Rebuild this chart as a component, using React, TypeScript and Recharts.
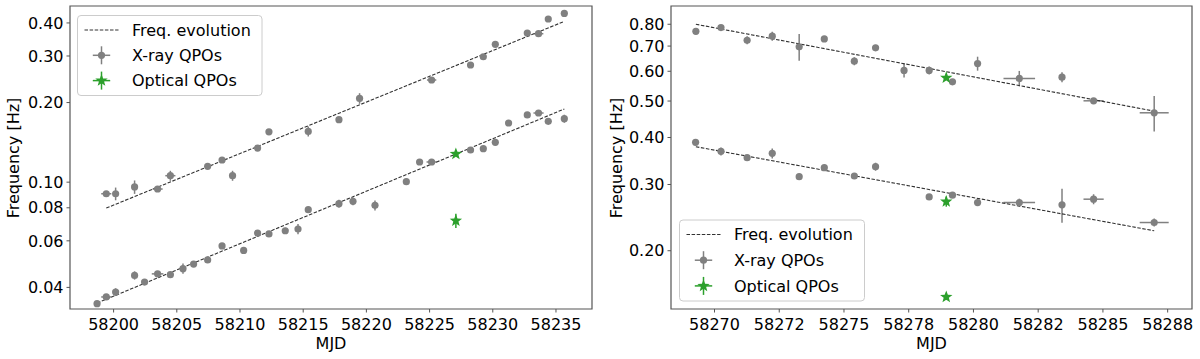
import React from 'react';
import { ScatterChart, Scatter, XAxis, YAxis, ErrorBar, ReferenceArea } from 'recharts';

const FONT = "'DejaVu Sans', Verdana, sans-serif";
const GREY = '#808080';
const GREEN = '#2ca02c';
const FIT = '#333333';
const SPINE = '#555555';

// ---------- Left panel data ----------
const leftXTicks = [58200, 58205, 58210, 58215, 58220, 58225, 58230, 58235];
const leftXTickLabels = ['58200', '58205', '58210', '58215', '58220', '58225', '58230', '58235'];
const leftYTicks = [0.04, 0.06, 0.08, 0.1, 0.2, 0.3, 0.4];
const leftYTickLabels = ['0.04', '0.06', '0.08', '0.10', '0.20', '0.30', '0.40'];

const leftUpperMjd = [58199.42, 58200.16, 58201.66, 58203.48, 58204.49, 58207.44, 58208.58, 58209.41, 58211.39, 58212.29, 58215.40, 58217.83, 58219.46, 58225.16, 58228.24, 58229.25, 58230.20, 58232.73, 58233.62, 58234.39, 58235.66];
const leftUpperFreq = [0.0904, 0.0904, 0.0959, 0.0942, 0.1058, 0.1148, 0.1213, 0.1058, 0.1346, 0.155, 0.1556, 0.1723, 0.2074, 0.2434, 0.2773, 0.298, 0.332, 0.3665, 0.3642, 0.414, 0.4347];
const leftUpperXErr = [0.4, 0, 0, 0.4, 0.4, 0, 0, 0, 0, 0, 0, 0, 0, 0.37, 0, 0, 0, 0, 0.38, 0, 0];
const leftUpperYErr = [0.0016, 0.005, 0.0056, 0.0008, 0.0046, 0.001, 0.001, 0.0046, 0.0012, 0.004, 0.0068, 0.0015, 0.0096, 0.002, 0.0024, 0.0026, 0.003, 0.003, 0.003, 0.0036, 0.0038];

const leftLowerMjd = [58198.69, 58199.42, 58200.16, 58201.66, 58202.45, 58203.48, 58204.49, 58205.49, 58206.33, 58207.44, 58208.58, 58210.29, 58211.39, 58212.29, 58213.58, 58214.59, 58215.40, 58217.83, 58218.94, 58220.68, 58223.16, 58224.21, 58225.16, 58228.24, 58229.25, 58230.20, 58231.25, 58232.73, 58233.62, 58234.39, 58235.66];
const leftLowerFreq = [0.0347, 0.0368, 0.0384, 0.0444, 0.0419, 0.045, 0.0447, 0.0471, 0.049, 0.0508, 0.0574, 0.0552, 0.0642, 0.0637, 0.0655, 0.0665, 0.0787, 0.0829, 0.0846, 0.0817, 0.1004, 0.1192, 0.1192, 0.1323, 0.1338, 0.1414, 0.1674, 0.1795, 0.1826, 0.1698, 0.1738];
const leftLowerXErr = [0, 0.4, 0, 0, 0, 0.46, 0.25, 0.2, 0, 0, 0, 0, 0, 0, 0, 0.2, 0, 0, 0, 0, 0, 0, 0.4, 0, 0, 0, 0, 0, 0.4, 0, 0];
const leftLowerYErr = [0, 0, 0.0013, 0.0016, 0, 0, 0, 0.0021, 0, 0, 0, 0, 0, 0, 0.0017, 0.0029, 0, 0.0029, 0.0029, 0.0036, 0, 0, 0, 0, 0, 0, 0, 0, 0, 0, 0.0061];

const leftOpticalMjd = [58227.08, 58227.08];
const leftOpticalFreq = [0.1278, 0.0715];
const leftOpticalXErr = [0, 0];
const leftOpticalYErr = [0.0005, 0.0044];

const leftFitUpperMjd = [58199.42, 58235.66];
const leftFitUpperFreq = [0.0798, 0.4055];
const leftFitLowerMjd = [58198.69, 58235.66];
const leftFitLowerFreq = [0.0349, 0.1891];

// ---------- Right panel data ----------
const rightXTicks = [58270, 58272.5, 58275, 58277.5, 58280, 58282.5, 58285, 58287.5];
const rightXTickLabels = ['58270', '58272', '58275', '58278', '58280', '58282', '58285', '58288'];
const rightYTicks = [0.2, 0.3, 0.4, 0.5, 0.6, 0.7, 0.8];
const rightYTickLabels = ['0.20', '0.30', '0.40', '0.50', '0.60', '0.70', '0.80'];

const rightUpperMjd = [58269.28, 58270.25, 58271.26, 58272.23, 58273.27, 58274.24, 58275.40, 58276.22, 58277.32, 58278.29, 58279.19, 58280.16, 58281.77, 58283.42, 58284.64, 58286.98];
const rightUpperFreq = [0.766, 0.784, 0.7255, 0.7435, 0.6966, 0.7312, 0.638, 0.6924, 0.603, 0.603, 0.5624, 0.629, 0.5742, 0.5787, 0.5007, 0.4653];
const rightUpperXErr = [0, 0, 0, 0, 0, 0, 0, 0, 0, 0, 0, 0, 0.61, 0, 0.39, 0.56];
const rightUpperYErr = [0.014, 0.005, 0.0177, 0.0204, 0.0566, 0.0045, 0.0156, 0.0127, 0.0258, 0.0147, 0.0034, 0.0269, 0.027, 0.0177, 0.003, 0.0503];

const rightLowerMjd = [58269.27, 58270.25, 58271.26, 58272.23, 58273.27, 58274.24, 58275.40, 58276.22, 58278.29, 58279.19, 58280.16, 58281.77, 58283.42, 58284.64, 58286.98];
const rightLowerFreq = [0.3884, 0.3675, 0.3535, 0.3631, 0.3148, 0.3325, 0.316, 0.3346, 0.278, 0.281, 0.2685, 0.2685, 0.2649, 0.2742, 0.2377];
const rightLowerXErr = [0, 0, 0, 0, 0, 0, 0, 0, 0, 0, 0, 0.61, 0, 0.39, 0.56];
const rightLowerYErr = [0.002, 0.009, 0.002, 0.0111, 0.0058, 0.002, 0.002, 0.0082, 0.002, 0.002, 0.002, 0.0066, 0.0275, 0.0084, 0.0058];

const rightOpticalMjd = [58278.95, 58278.95, 58278.95];
const rightOpticalFreq = [0.5763, 0.2702, 0.1507];
const rightOpticalXErr = [0, 0, 0];
const rightOpticalYErr = [0.004, 0.0083, 0.0028];

const rightFitUpperMjd = [58269.28, 58286.98];
const rightFitUpperFreq = [0.8, 0.47];
const rightFitLowerMjd = [58269.28, 58286.98];
const rightFitLowerFreq = [0.378, 0.226];

// ---------- helpers ----------
type Pt = { x: number; y: number; ex: number; ey: number };
const mk = (mjd: number[], f: number[], ex?: number[], ey?: number[]): Pt[] =>
  mjd.map((x, i) => ({ x, y: f[i], ex: ex ? ex[i] : 0, ey: ey ? ey[i] : 0 }));

const starPoints = (cx: number, cy: number, R: number) => {
  const r = R * 0.42;
  const pts: string[] = [];
  for (let i = 0; i < 10; i++) {
    const a = (-90 + i * 36) * Math.PI / 180;
    const rad = i % 2 === 0 ? R : r;
    pts.push(`${cx + rad * Math.cos(a)},${cy + rad * Math.sin(a)}`);
  }
  return pts.join(' ');
};

const CircleShape = (p: any) =>
  p.cx == null ? <g /> : <circle cx={p.cx} cy={p.cy} r={3.6} fill={GREY} />;
const StarShape = (p: any) =>
  p.cx == null ? <g /> : <polygon points={starPoints(p.cx, p.cy, 6.5)} fill={GREEN} />;
const NoShape = () => <g />;

type PanelProps = {
  left: number;
  yAxisWidth: number;
  xDomain: [number, number];
  yDomain: [number, number];
  xTicks: number[];
  xTickLabels: string[];
  yTicks: number[];
  yTickLabels: string[];
  upper: Pt[];
  lower: Pt[];
  optical: Pt[];
  fitUpper: Pt[];
  fitLower: Pt[];
};

const tickStyle = { fill: '#000', fontSize: 16, fontFamily: FONT };

function Panel(props: PanelProps) {
  const { left, yAxisWidth, xDomain, yDomain, xTicks, xTickLabels, yTicks, yTickLabels } = props;
  const fitLine = { stroke: FIT, strokeWidth: 1.1, strokeDasharray: '3.5 1.6' };
  return (
    <div style={{ position: 'absolute', left, top: 0, width: 600, height: 359 }}>
      <ScatterChart width={600} height={359} margin={{ top: 6, right: 8, bottom: 0, left: 0 }}>
        <XAxis
          type="number"
          dataKey="x"
          domain={xDomain}
          allowDataOverflow
          ticks={xTicks}
          tickFormatter={(v: number) => xTickLabels[xTicks.indexOf(v)] ?? String(v)}
          height={50}
          axisLine={false}
          tickLine={{ stroke: SPINE, strokeWidth: 1 }}
          tickSize={3.5}
          tickMargin={6}
          tick={tickStyle}
          interval={0}
        />
        <YAxis
          type="number"
          dataKey="y"
          scale="log"
          domain={yDomain}
          allowDataOverflow
          ticks={yTicks}
          tickFormatter={(v: number) => yTickLabels[yTicks.indexOf(v)] ?? String(v)}
          width={yAxisWidth}
          axisLine={false}
          tickLine={{ stroke: SPINE, strokeWidth: 1 }}
          tickSize={3.5}
          tickMargin={3}
          tick={tickStyle}
          interval={0}
        />
        <ReferenceArea
          x1={xDomain[0]}
          x2={xDomain[1]}
          y1={yDomain[0]}
          y2={yDomain[1]}
          fill="none"
          fillOpacity={0}
          stroke={SPINE}
          strokeWidth={1.2}
          ifOverflow="visible"
        />
        <Scatter data={props.fitUpper} line={fitLine} shape={NoShape} isAnimationActive={false} />
        <Scatter data={props.fitLower} line={fitLine} shape={NoShape} isAnimationActive={false} />
        <Scatter data={props.upper} shape={CircleShape} isAnimationActive={false}>
          <ErrorBar dataKey="ey" direction="y" width={0} stroke={GREY} strokeWidth={1.5} isAnimationActive={false} />
          <ErrorBar dataKey="ex" direction="x" width={0} stroke={GREY} strokeWidth={1.5} isAnimationActive={false} />
        </Scatter>
        <Scatter data={props.lower} shape={CircleShape} isAnimationActive={false}>
          <ErrorBar dataKey="ey" direction="y" width={0} stroke={GREY} strokeWidth={1.5} isAnimationActive={false} />
          <ErrorBar dataKey="ex" direction="x" width={0} stroke={GREY} strokeWidth={1.5} isAnimationActive={false} />
        </Scatter>
        <Scatter data={props.optical} shape={StarShape} isAnimationActive={false}>
          <ErrorBar dataKey="ey" direction="y" width={0} stroke={GREEN} strokeWidth={1.5} isAnimationActive={false} />
          <ErrorBar dataKey="ex" direction="x" width={0} stroke={GREEN} strokeWidth={1.5} isAnimationActive={false} />
        </Scatter>
      </ScatterChart>
    </div>
  );
}

function LegendBox({ x, y, w, h, rowGap }: { x: number; y: number; w: number; h: number; rowGap: number }) {
  const hx0 = x + 7;
  const hx1 = x + 41;
  const hc = (hx0 + hx1) / 2;
  const tx = x + 54.5;
  const r0 = y + 14.5;
  const r1 = r0 + rowGap;
  const r2 = r1 + rowGap;
  const textProps = { fontFamily: FONT, fontSize: 16, fill: '#000' };
  return (
    <g>
      <rect x={x} y={y} width={w} height={h} rx={3.5} fill="#fff" fillOpacity={0.8} stroke="#cccccc" strokeWidth={1} />
      <line x1={hx0} y1={r0} x2={hx1} y2={r0} stroke={FIT} strokeWidth={1.1} strokeDasharray="3.5 1.6" />
      <text x={tx} y={r0 + 5.7} {...textProps}>Freq. evolution</text>
      <line x1={hc - 8.7} y1={r1} x2={hc + 8.7} y2={r1} stroke={GREY} strokeWidth={1.5} />
      <line x1={hc} y1={r1 - 9} x2={hc} y2={r1 + 9} stroke={GREY} strokeWidth={1.5} />
      <circle cx={hc} cy={r1} r={3.6} fill={GREY} />
      <text x={tx} y={r1 + 5.7} {...textProps}>X-ray QPOs</text>
      <line x1={hc - 8.7} y1={r2} x2={hc + 8.7} y2={r2} stroke={GREEN} strokeWidth={1.5} />
      <line x1={hc} y1={r2 - 9} x2={hc} y2={r2 + 9} stroke={GREEN} strokeWidth={1.5} />
      <polygon points={starPoints(hc, r2, 6.5)} fill={GREEN} />
      <text x={tx} y={r2 + 5.7} {...textProps}>Optical QPOs</text>
    </g>
  );
}

export default function App() {
  const titleProps = { fontFamily: FONT, fontSize: 16, fill: '#000', textAnchor: 'middle' as const };
  return (
    <div style={{ position: 'absolute', left: 0, top: 0, width: 1200, height: 359, background: '#fff', overflow: 'hidden' }}>
      <Panel
        left={0}
        yAxisWidth={70}
        xDomain={[58196.55, 58237.85]}
        yDomain={[0.03314, 0.4636]}
        xTicks={leftXTicks}
        xTickLabels={leftXTickLabels}
        yTicks={leftYTicks}
        yTickLabels={leftYTickLabels}
        upper={mk(leftUpperMjd, leftUpperFreq, leftUpperXErr, leftUpperYErr)}
        lower={mk(leftLowerMjd, leftLowerFreq, leftLowerXErr, leftLowerYErr)}
        optical={mk(leftOpticalMjd, leftOpticalFreq, leftOpticalXErr, leftOpticalYErr)}
        fitUpper={mk(leftFitUpperMjd, leftFitUpperFreq)}
        fitLower={mk(leftFitLowerMjd, leftFitLowerFreq)}
      />
      <Panel
        left={600}
        yAxisWidth={71}
        xDomain={[58268.32, 58288.44]}
        yDomain={[0.14, 0.8946]}
        xTicks={rightXTicks}
        xTickLabels={rightXTickLabels}
        yTicks={rightYTicks}
        yTickLabels={rightYTickLabels}
        upper={mk(rightUpperMjd, rightUpperFreq, rightUpperXErr, rightUpperYErr)}
        lower={mk(rightLowerMjd, rightLowerFreq, rightLowerXErr, rightLowerYErr)}
        optical={mk(rightOpticalMjd, rightOpticalFreq, rightOpticalXErr, rightOpticalYErr)}
        fitUpper={mk(rightFitUpperMjd, rightFitUpperFreq)}
        fitLower={mk(rightFitLowerMjd, rightFitLowerFreq)}
      />
      <svg width={1200} height={359} style={{ position: 'absolute', left: 0, top: 0, pointerEvents: 'none' }}>
        <LegendBox x={77.5} y={15.5} w={184.5} h={80} rowGap={25.3} />
        <LegendBox x={679.5} y={220} w={185} h={81} rowGap={25.7} />
        <text x={331} y={348.5} {...titleProps}>MJD</text>
        <text x={931.5} y={348.5} {...titleProps}>MJD</text>
        <text x={18.6} y={158} transform="rotate(-90 18.6 158)" {...titleProps}>Frequency [Hz]</text>
        <text x={621.5} y={158} transform="rotate(-90 621.5 158)" {...titleProps}>Frequency [Hz]</text>
      </svg>
    </div>
  );
}
